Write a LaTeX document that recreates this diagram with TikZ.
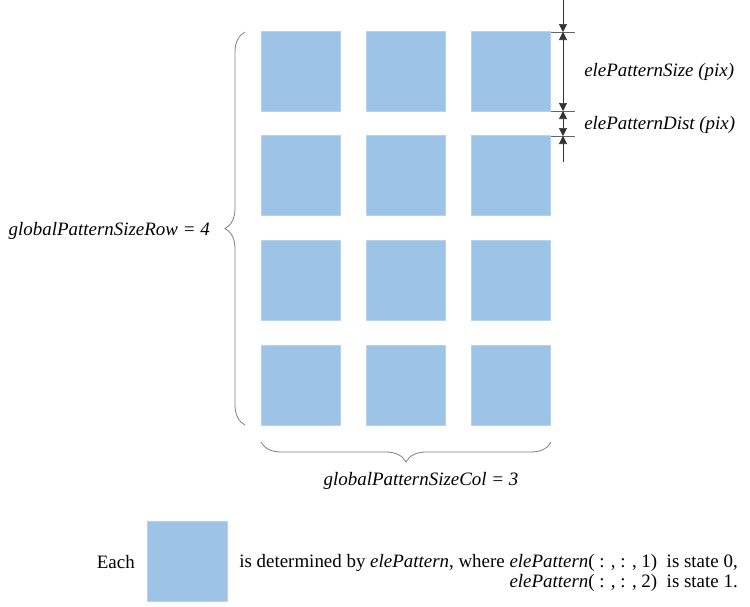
\documentclass[tikz,border=0pt]{standalone}
\usepackage{fontspec}
\setmainfont{Liberation Serif}
\usetikzlibrary{arrows.meta,decorations.pathreplacing}
\definecolor{cellfill}{HTML}{9DC3E6}
\definecolor{celledge}{HTML}{B6D3EE}
\definecolor{bracegray}{HTML}{808080}

\begin{document}
\begin{tikzpicture}[x=0.75pt,y=-0.75pt]
\tikzstyle{cell}=[draw=celledge,fill=cellfill,line width=0.6pt,minimum size=59.5pt,inner sep=0pt];
\tikzstyle{lbl}=[font=\fontsize{14.2}{15}\selectfont\itshape,inner sep=0pt];
\tikzstyle{txt}=[font=\fontsize{14.2}{15}\selectfont,inner sep=0pt];
\tikzstyle{dir}=[draw=black!80,line width=0.5pt,-{Triangle[length=6pt,width=6pt]}];
\tikzstyle{dim}=[draw=black!80,line width=0.5pt,{Triangle[length=6pt,width=6pt]}-{Triangle[length=6pt,width=6pt]}];
\tikzstyle{tick}=[draw=black!60,line width=0.5pt];
\tikzstyle{brace}=[draw=bracegray,line width=0.6pt,decorate,decoration={brace,amplitude=15pt}];
\useasboundingbox (0,0) rectangle (750,607);
% grid of patterns
\node [cell] (p11) at (301,71.5) {};
\node [cell] (p12) at (406,71.5) {};
\node [cell] (p13) at (511,71.5) {};
\node [cell] (p21) at (301,175.5) {};
\node [cell] (p22) at (406,175.5) {};
\node [cell] (p23) at (511,175.5) {};
\node [cell] (p31) at (301,280.5) {};
\node [cell] (p32) at (406,280.5) {};
\node [cell] (p33) at (511,280.5) {};
\node [cell] (p41) at (301,385.5) {};
\node [cell] (p42) at (406,385.5) {};
\node [cell] (p43) at (511,385.5) {};
% dimensions
\coordinate (d0) at (563,0);
\coordinate (d1) at (563,32);
\coordinate (d2) at (563,111);
\coordinate (d3) at (563,136);
\coordinate (d4) at (563,162);
\coordinate (k1a) at (551,32);
\coordinate (k1b) at (575,32);
\coordinate (k2a) at (551,111);
\coordinate (k2b) at (575,111);
\coordinate (k3a) at (551,136);
\coordinate (k3b) at (575,136);
\draw [tick] (k1a) -- (k1b);
\draw [tick] (k2a) -- (k2b);
\draw [tick] (k3a) -- (k3b);
\draw [dir] (d0) -- (d1);
\draw [dim] (d1) -- (d2);
\draw [dim] (d2) -- (d3);
\draw [dir] (d4) -- (d3);
\node [lbl,anchor=west] (sz) at (584,72) {elePatternSize (pix)};
\node [lbl,anchor=west] (ds) at (584,125) {elePatternDist (pix)};
% braces
\coordinate (r1) at (245,425);
\coordinate (r2) at (245,32);
\coordinate (c1) at (551,442);
\coordinate (c2) at (261,442);
\draw [brace] (r1) -- (r2);
\draw [brace] (c1) -- (c2);
\node [lbl,anchor=east] (row) at (210,231) {globalPatternSizeRow = 4};
\node [lbl] (col) at (421,481) {globalPatternSizeCol = 3};
% legend
\node [txt,anchor=east] (each) at (135,562) {Each};
\node [cell] (leg) at (187.5,561.5) {};
\node [txt,anchor=north east,align=right] (note) at (738,554)
  {is determined by \textit{elePattern}, where \textit{elePattern}( : , : , 1)\ \ is state 0,\\
   \textit{elePattern}( : , : , 2)\ \ is state 1.};
\end{tikzpicture}
\end{document}
